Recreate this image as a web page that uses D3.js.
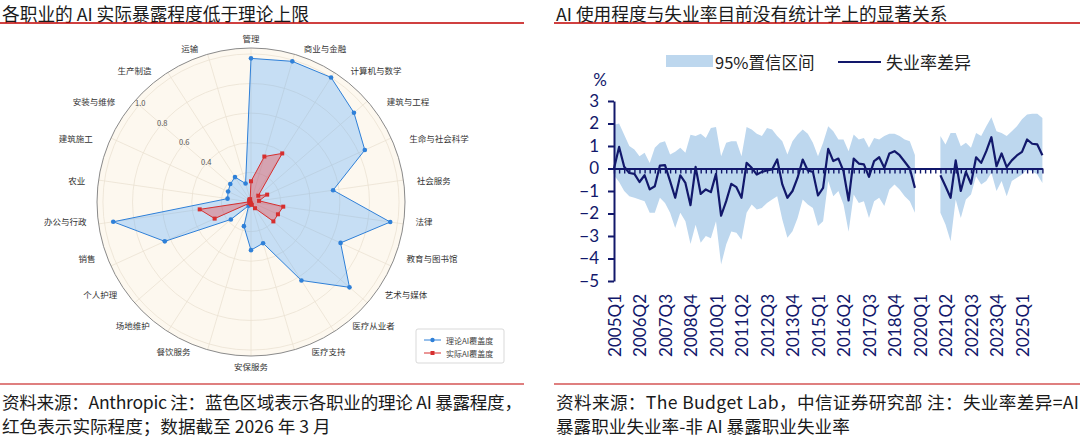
<!DOCTYPE html>
<html>
<head>
<meta charset="utf-8">
<script src="https://cdn.jsdelivr.net/npm/d3@7"></script>
<style>
body { margin: 0; background: #fff; }
text { font-family: "Noto Sans CJK SC", "Noto Sans", sans-serif; }
.num { font-family: Lato, "Open Sans", sans-serif; }
</style>
</head>
<body>
<svg width="1080" height="437"></svg>
<script>
// ---- left panel: occupations, clockwise from the top
const occupations = ['管理', '商业与金融', '计算机与数学', '建筑与工程', '生命与社会科学', '社会服务',
    '法律', '教育与图书馆', '艺术与媒体', '医疗从业者', '医疗支持', '安保服务', '餐饮服务', '场地维护',
    '个人护理', '销售', '办公与行政', '农业', '建筑施工', '安装与维修', '生产制造', '运输']
const theoretical = [0.97, 0.99, 1.0, 0.92, 0.845, 0.56, 0.95, 0.665, 0.88, 0.63, 0.29, 0.325,
    0.17, 0.03, 0.18, 0.64, 0.94, 0.16, 0.17, 0.185, 0.2, 0.13]
const observed = [0.14, 0.32, 0.39, 0.065, 0.12, 0.055, 0.22, 0.2, 0.2, 0.05, 0.02, 0.015,
    0.01, 0.005, 0.01, 0.27, 0.35, 0.01, 0.01, 0.015, 0.02, 0.02]
const rGrid = [0.2, 0.4, 0.6, 0.8, 1.0]
const rLabels = [0.4, 0.6, 0.8, 1.0]
const radarLegend = ['理论AI覆盖度', '实际AI覆盖度']

// ---- right panel: quarterly unemployment gap and 95% band (null = no data)
const diff = [0.0, 0.96, 0.08, -0.2, -0.24, -0.6, -0.3, -0.93, -0.79, 0.13,
    0.15, -0.56, -1.3, -0.3, -0.64, -1.63, 0.07, -1.13, -0.93, -1.05,
    -0.24, -2.1, -1.45, -0.68, -0.83, -1.3, 0.25, 0.03, -0.27, -0.15,
    -0.09, -0.04, 0.4, -0.71, -1.3, -1.0, -0.41, 0.4, -0.09, -0.15,
    -1.2, -0.86, 0.87, 0.33, 0.44, -0.12, -1.42, 0.44, 0.22, 0.18,
    -0.37, 0.33, 0.5, 0.03, 0.67, 0.77, 0.59, 0.3, 0.0, -0.86,
    null, null, null, null, -0.3, -0.79, -1.3, 0.36, -1.0, -0.15,
    -0.68, 0.5, 0.25, 0.77, 1.39, 0.1, 0.67, 0.06, 0.36, 0.58,
    0.74, 1.29, 1.1, 1.07, 0.59]
const upper = [1.95, 2.0, 1.5, 1.0, 0.85, 0.55, 0.7, 0.25, 0.92, 1.14,
    1.21, 0.62, 0.75, 0.92, 0.7, 1.5, 1.44, 1.54, 1.36, 1.8,
    1.84, 0.55, 1.14, 1.21, 1.21, 0.55, 1.84, 1.73, 1.54, 1.44,
    1.8, 1.73, 1.44, 1.21, 0.62, 1.21, 1.51, 1.73, 1.54, 1.14,
    0.55, 1.14, 1.88, 1.66, 1.29, 1.29, 0.77, 1.51, 1.29, 1.36,
    0.92, 1.36, 1.29, 1.44, 1.54, 1.54, 1.44, 1.29, 1.21, 0.6,
    null, null, null, null, 1.44, 1.07, 1.58, 1.58, 0.99, 1.14,
    0.92, 1.58, 1.44, 1.88, 2.28, 1.66, 1.58, 1.44, 1.66, 1.88,
    2.19, 2.4, 2.43, 2.43, 2.25]
const lower = [-0.3, -0.6, -1.0, -1.23, -1.3, -1.38, -1.45, -1.97, -1.97, -1.3,
    -1.53, -1.97, -2.64, -1.97, -2.34, -3.35, -2.5, -3.3, -3.0, -3.1,
    -2.34, -4.27, -3.38, -2.8, -2.86, -3.17, -1.97, -1.6, -1.82, -1.75,
    -1.53, -1.38, -1.23, -2.27, -3.08, -2.79, -2.2, -1.38, -1.6, -1.75,
    -2.56, -2.34, -0.56, -1.23, -1.0, -1.6, -2.81, -1.16, -1.53, -1.45,
    -2.2, -1.45, -1.3, -1.67, -0.93, -0.71, -0.93, -1.23, -1.45, -1.97,
    null, null, null, null, -1.97, -2.49, -3.23, -1.38, -2.2, -1.38,
    -1.16, -0.34, -0.71, -0.56, -0.19, -1.0, -0.56, -1.23, -0.56, -0.41,
    -0.27, -0.04, -0.12, -0.27, -0.64]
const xLabels = ['2005Q1', '2006Q2', '2007Q3', '2008Q4', '2010Q1', '2011Q2', '2012Q3', '2013Q4', '2015Q1',
    '2016Q2', '2017Q3', '2018Q4', '2020Q1', '2021Q2', '2022Q3', '2023Q4', '2025Q1']
const yTicks = [3, 2, 1, 0, -1, -2, -3, -4, -5]
const lineLegend = ['95%置信区间', '失业率差异']

// quarter categories 2005Q1 .. 2026Q1
const quarters = []
for (let yr = 2005; yr <= 2026; yr++)
    for (let q = 1; q <= 4; q++)
        if (quarters.length < diff.length) quarters.push(yr + 'Q' + q)

const svg = d3.select('svg')
svg.append('rect').attr('width', 1080).attr('height', 437).attr('fill', '#fff')

// ---- headers and footers
const red = '#c00000'
const heads = [
    {x: 2, w: 524, title: '各职业的 AI 实际暴露程度低于理论上限',
     notes: ['资料来源：Anthropic  注：蓝色区域表示各职业的理论 AI 暴露程度，', '红色表示实际程度；数据截至 2026 年 3 月'],
     fit: 520},
    {x: 556, w: 526, title: 'AI 使用程度与失业率目前没有统计学上的显著关系',
     notes: ['资料来源：The Budget Lab，中信证券研究部 注：失业率差异=AI', '暴露职业失业率-非 AI 暴露职业失业率'],
     fit: 523}
]
heads.forEach(h => {
    svg.append('text').attr('x', h.x).attr('y', 12.5).attr('dominant-baseline', 'central')
        .attr('font-size', 17.7).attr('fill', '#1a1a1a').text(h.title)
    svg.append('line').attr('x1', h.x - 2).attr('x2', h.x - 2 + h.w).attr('y1', 23).attr('y2', 23)
        .attr('stroke', red).attr('stroke-width', 1.5)
    svg.append('line').attr('x1', h.x - 2).attr('x2', h.x - 2 + h.w).attr('y1', 384).attr('y2', 384)
        .attr('stroke', red).attr('stroke-width', 1.2)
    svg.selectAll(null).data(h.notes).join('text')
        .attr('x', h.x).attr('y', (d, i) => 401 + i * 24).attr('dominant-baseline', 'central')
        .attr('font-size', 17.6).attr('fill', '#1a1a1a').text(d => d)
        .filter((d, i) => i === 0)
        .attr('textLength', h.fit).attr('lengthAdjust', 'spacing')
})

// ---- radar
const cx = 251, cy = 202
const n = occupations.length
const angle = d3.scaleLinear().domain([0, n]).range([0, 2 * Math.PI])
const r = d3.scaleLinear().domain([0, 1.04]).range([0, 154])
const radar = svg.append('g').attr('transform', `translate(${cx},${cy})`)

radar.append('circle').attr('r', r(1.04)).attr('fill', '#fdf8ef')
radar.selectAll('.grid').data(rGrid).join('circle')
    .attr('r', d => r(d)).attr('fill', 'none').attr('stroke', '#ebe2d3').attr('stroke-width', 0.8)
radar.selectAll('.spoke').data(occupations).join('line')
    .attr('x2', (d, i) => r(1.04) * Math.sin(angle(i)))
    .attr('y2', (d, i) => -r(1.04) * Math.cos(angle(i)))
    .attr('stroke', '#ebe2d3').attr('stroke-width', 0.8)
radar.append('circle').attr('r', r(1.04)).attr('fill', 'none').attr('stroke', '#8a8a8a').attr('stroke-width', 1)

radar.selectAll('.rlab').data(rLabels).join('text')
    .attr('x', d => (r(d) + 1) * Math.sin(-48 * Math.PI / 180))
    .attr('y', d => -(r(d) + 1) * Math.cos(-48 * Math.PI / 180))
    .attr('text-anchor', 'middle').attr('dominant-baseline', 'central')
    .attr('font-size', 7.5).attr('fill', '#555').text(d => d.toFixed(1))

const series = [
    {vals: theoretical, color: '#2f80d8', fill: '#49a1ff', op: 0.3, shape: 'circle'},
    {vals: observed, color: '#d62f2f', fill: '#f03a3a', op: 0.36, shape: 'square'}
]
const radial = d3.lineRadial()
    .angle((d, i) => angle(i))
    .radius(d => r(d))
    .curve(d3.curveLinearClosed)

series.forEach(s => {
    radar.append('path').attr('d', radial(s.vals))
        .attr('fill', s.fill).attr('fill-opacity', s.op)
        .attr('stroke', s.color).attr('stroke-width', 1)
    const pts = s.vals.map((v, i) => [r(v) * Math.sin(angle(i)), -r(v) * Math.cos(angle(i))])
    if (s.shape === 'circle') {
        radar.selectAll(null).data(pts).join('circle')
            .attr('cx', d => d[0]).attr('cy', d => d[1]).attr('r', 2.3).attr('fill', s.color)
    } else {
        radar.selectAll(null).data(pts).join('rect')
            .attr('x', d => d[0] - 2).attr('y', d => d[1] - 2)
            .attr('width', 4).attr('height', 4).attr('fill', s.color)
    }
})

// category labels around the rim
function labelPos(a) {
    const s = Math.sin(a), c = Math.cos(a)
    const sg = Math.abs(s) < 0.05 ? 0 : Math.sign(s)
    let x = 164 * s, y = -164 * c
    if (c >= 0) {
        x += sg * 12 * Math.abs(Math.sin(2 * a))
        y += 6 * Math.abs(Math.sin(2 * a))
    } else {
        x += sg * 15 * (-c)
        y -= 32 * Math.abs(s) * (-c)
    }
    return {x, y, anchor: sg > 0 ? 'start' : sg < 0 ? 'end' : 'middle'}
}
radar.selectAll('.cat').data(occupations).join('text')
    .each(function (d, i) {
        const p = labelPos(angle(i))
        d3.select(this).attr('x', p.x).attr('y', p.y).attr('text-anchor', p.anchor)
    })
    .attr('dominant-baseline', 'central')
    .attr('font-size', 8.5).attr('fill', '#333').text(d => d)

// radar legend
const leg = svg.append('g').attr('transform', 'translate(416,329)')
leg.append('rect').attr('width', 88).attr('height', 34).attr('rx', 2)
    .attr('fill', '#fff').attr('stroke', '#cfcfcf').attr('stroke-width', 0.8)
radarLegend.forEach((t, i) => {
    const s = series[i], yy = 11 + i * 13
    leg.append('line').attr('x1', 8).attr('x2', 25).attr('y1', yy).attr('y2', yy)
        .attr('stroke', s.color).attr('stroke-width', 1)
    if (s.shape === 'circle') leg.append('circle').attr('cx', 16.5).attr('cy', yy).attr('r', 2.2).attr('fill', s.color)
    else leg.append('rect').attr('x', 14.5).attr('y', yy - 2).attr('width', 4).attr('height', 4).attr('fill', s.color)
    leg.append('text').attr('x', 30).attr('y', yy).attr('dominant-baseline', 'central')
        .attr('font-size', 8).attr('fill', '#444').text(t)
})

// ---- line chart
const navy = '#12186b'
const x = d3.scalePoint().domain(quarters).range([614, 1042.4])
const y = d3.scaleLinear().domain([-5, 3]).range([281, 101])
const rows = quarters.map((q, i) => ({q, d: diff[i], lo: lower[i], hi: upper[i]}))

svg.append('path')
    .attr('d', d3.area()
        .defined(d => d.hi != null)
        .x(d => x(d.q)).y0(d => y(d.lo)).y1(d => y(d.hi))(rows))
    .attr('fill', '#bdd7ee')

// zero axis with a tick at every quarter
svg.append('g').attr('transform', `translate(0,${y(0)})`)
    .call(d3.axisBottom(x).tickSize(5).tickSizeOuter(0).tickFormat(''))
    .call(g => g.select('.domain').attr('stroke', navy).attr('stroke-width', 2))
    .call(g => g.selectAll('.tick line').attr('stroke', navy).attr('stroke-width', 1.4))

svg.append('path')
    .attr('d', d3.line()
        .defined(d => d.d != null)
        .x(d => x(d.q)).y(d => y(d.d))(rows))
    .attr('fill', 'none').attr('stroke', navy).attr('stroke-width', 2.2).attr('stroke-linejoin', 'round')

svg.append('g').attr('transform', 'translate(614,0)')
    .call(d3.axisLeft(y).tickValues(yTicks).tickSize(6).tickSizeOuter(0).tickPadding(9).tickFormat(d3.format('d')))
    .call(g => g.select('.domain').attr('stroke', navy).attr('stroke-width', 2))
    .call(g => g.selectAll('.tick line').attr('stroke', navy).attr('stroke-width', 2))
    .call(g => g.selectAll('.tick text').attr('class', 'num').attr('font-size', 17).attr('fill', navy))

svg.append('text').attr('class', 'num').attr('x', 600).attr('y', 79)
    .attr('text-anchor', 'middle').attr('dominant-baseline', 'central')
    .attr('font-size', 17).attr('fill', navy).text('%')

svg.selectAll('.xlab').data(xLabels).join('text')
    .attr('class', 'num')
    .attr('transform', d => `translate(${x(d)},294) rotate(-90)`)
    .attr('text-anchor', 'end').attr('dominant-baseline', 'central')
    .attr('font-size', 17).attr('fill', navy).text(d => d)

// line chart legend
svg.append('rect').attr('x', 666).attr('y', 55).attr('width', 47).attr('height', 12).attr('fill', '#bdd7ee')
svg.append('text').attr('x', 715).attr('y', 61.5).attr('dominant-baseline', 'central')
    .attr('font-size', 16.5).attr('fill', '#222').text(lineLegend[0])
svg.append('line').attr('x1', 838).attr('x2', 881).attr('y1', 62).attr('y2', 62)
    .attr('stroke', navy).attr('stroke-width', 2)
svg.append('text').attr('x', 886).attr('y', 61.5).attr('dominant-baseline', 'central')
    .attr('font-size', 17).attr('fill', '#222').text(lineLegend[1])
</script>
</body>
</html>
